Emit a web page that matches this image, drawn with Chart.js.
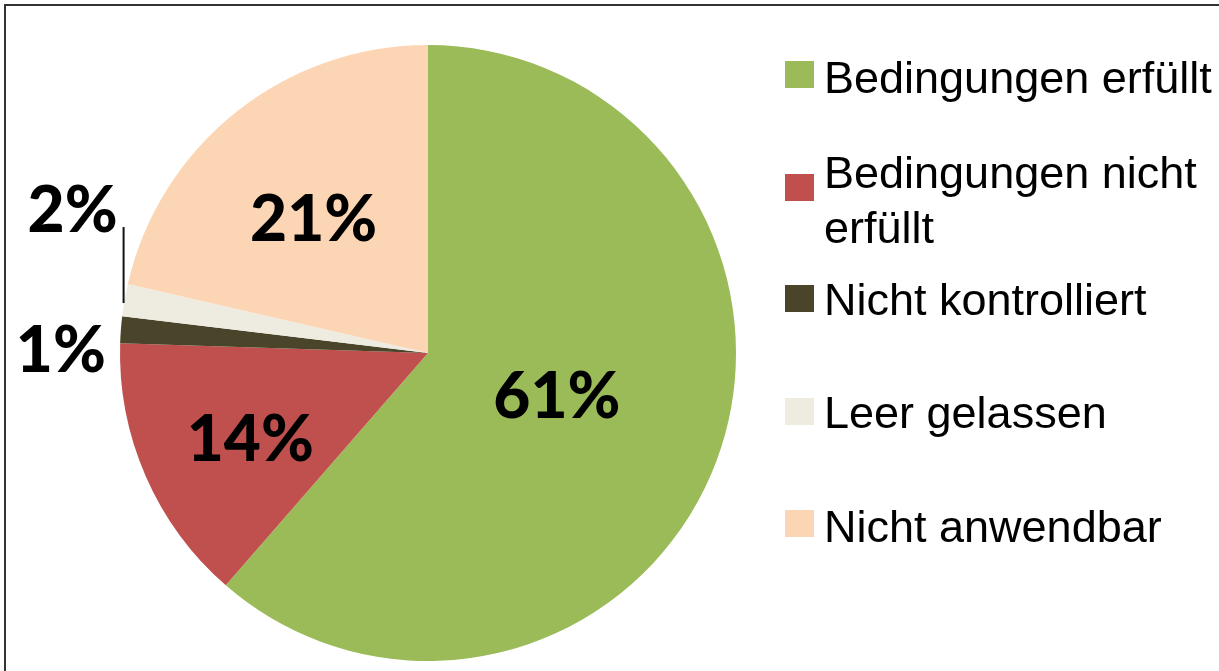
<!DOCTYPE html>
<html>
<head>
<meta charset="utf-8">
<script src="https://cdn.jsdelivr.net/npm/chart.js@4/dist/chart.umd.min.js"></script>
<style>
  html, body { margin: 0; padding: 0; background: #fff; overflow: hidden; }
  #wrap { position: relative; width: 1219px; height: 671px; }
  #frame { position: absolute; left: 4px; top: 4px; width: 1300px; height: 700px;
           border-left: 2px solid #333; border-top: 2px solid #333; }
  #pie { position: absolute; left: 0; top: 0; }
  .item { position: absolute; left: 785px; }
  .sw { position: absolute; left: 0; width: 29px; height: 27px; }
  .txt { position: absolute; left: 39px; width: 395px; font-family: "Liberation Sans", Arial, sans-serif;
         font-size: 45px; line-height: 55px; color: #000; }
</style>
</head>
<body>
<div id="wrap">
  <div id="frame"></div>
  <canvas id="pie" width="1219" height="671"></canvas>
  <div id="legend"></div>
</div>
<script>
const categories = ['Bedingungen erfüllt', 'Bedingungen nicht erfüllt', 'Nicht kontrolliert', 'Leer gelassen', 'Nicht anwendbar'];
const shares = [61.4, 14.1, 1.4, 1.7, 21.4];
const colors = ['#9BBB59', '#C0504D', '#4A452A', '#EEECE1', '#FCD5B5'];

// label placement: fraction of radius along mid angle, plus nudges
const labelSpots = [
  { f: 0.44, dx: 2, dy: -6 },
  { f: 0.64, dx: 3, dy: 6 },
  { f: 1.0, dx: -60, dy: 19 },
  { f: 1.0, dx: -52, dy: -91, leader: 73 },
  { f: 0.575, dx: -4, dy: 4 }
];

// legend rows: text top and swatch top
const legendRows = [
  { top: 50, sw: 61 },
  { top: 145, sw: 174 },
  { top: 272, sw: 285 },
  { top: 385, sw: 398 },
  { top: 499, sw: 510 }
];

const pctLabels = {
  id: 'pctLabels',
  afterDatasetsDraw(chart) {
    const ctx = chart.ctx;
    const arcs = chart.getDatasetMeta(0).data;
    const total = shares.reduce((a, b) => a + b, 0);
    ctx.save();
    ctx.font = '900 64px Lato, "Open Sans", sans-serif';
    ctx.textAlign = 'center';
    ctx.textBaseline = 'alphabetic';
    ctx.fillStyle = '#000';
    arcs.forEach((arc, i) => {
      const spot = labelSpots[i];
      const mid = (arc.startAngle + arc.endAngle) / 2;
      let px = arc.x + Math.cos(mid) * arc.outerRadius * spot.f;
      let py = arc.y + Math.sin(mid) * arc.outerRadius * spot.f;
      if (spot.leader) {
        ctx.beginPath();
        ctx.strokeStyle = '#111';
        ctx.lineWidth = 2;
        ctx.moveTo(px - 1, py + 3);
        ctx.lineTo(px - 1, py - spot.leader);
        ctx.stroke();
      }
      const txt = Math.round(shares[i] / total * 100) + '%';
      ctx.fillText(txt, px + spot.dx, py + spot.dy + 23);
    });
    ctx.restore();
  }
};

new Chart(document.getElementById('pie'), {
  type: 'pie',
  data: {
    labels: categories,
    datasets: [{
      data: shares,
      backgroundColor: colors,
      borderWidth: 0
    }]
  },
  options: {
    responsive: false,
    animation: false,
    layout: { padding: { left: 120, top: 45, right: 483, bottom: 10 } },
    plugins: {
      legend: { display: false },
      tooltip: { enabled: false }
    }
  },
  plugins: [pctLabels]
});

const legend = document.getElementById('legend');
categories.forEach((name, i) => {
  const row = document.createElement('div');
  row.className = 'item';
  row.style.top = '0px';
  const sw = document.createElement('div');
  sw.className = 'sw';
  sw.style.top = legendRows[i].sw + 'px';
  sw.style.background = colors[i];
  const t = document.createElement('div');
  t.className = 'txt';
  t.style.top = legendRows[i].top + 'px';
  t.textContent = name;
  row.appendChild(sw);
  row.appendChild(t);
  legend.appendChild(row);
});
</script>
</body>
</html>
